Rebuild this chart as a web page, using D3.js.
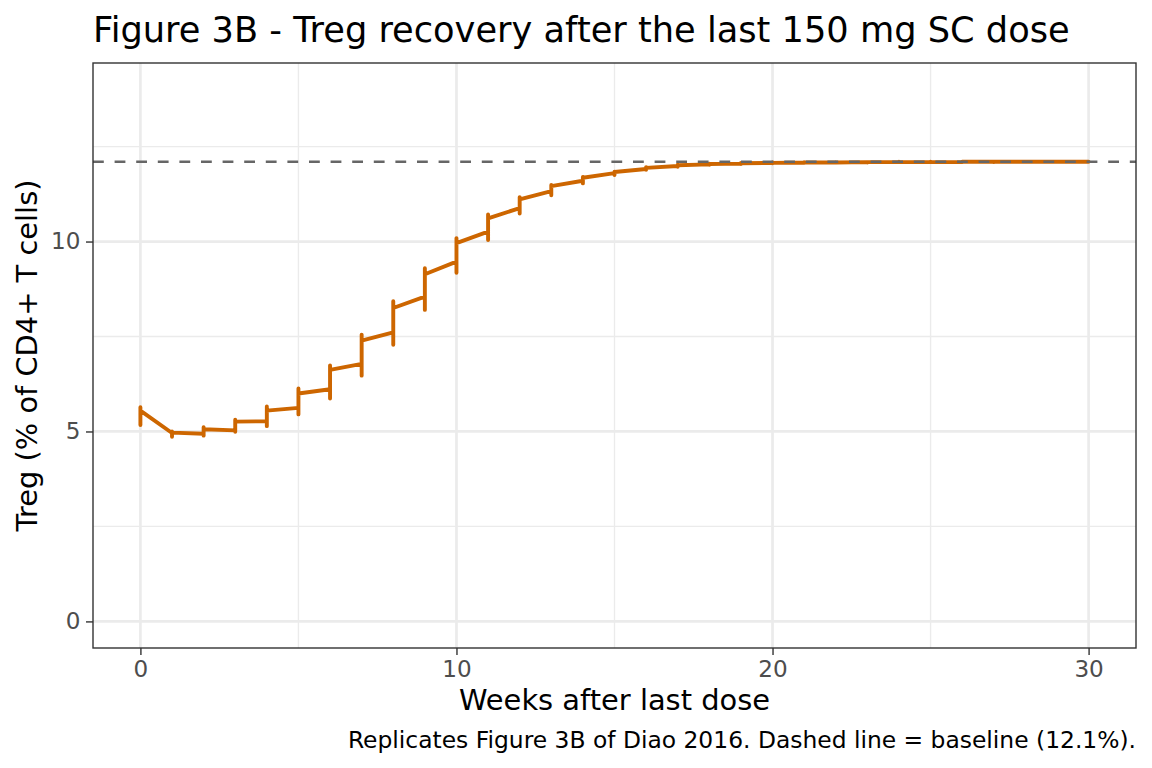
<!DOCTYPE html>
<html>
<head>
<meta charset="utf-8">
<script src="https://cdn.jsdelivr.net/npm/d3@7"></script>
<style>
  html, body { margin: 0; padding: 0; background: #ffffff; }
  svg { display: block; }
  text { font-family: "DejaVu Sans", sans-serif; }
</style>
</head>
<body>
<svg id="chart" width="1152" height="768"></svg>
<script>
// ---- Data ----
const weeks   = [0,1,2,3,4,5,6,7,8,9,10,11,12,13,14,15,16,17,18,19,20,21,22,23,24,25,26,27,28,29,30];
// value where the line arrives at each week (none for week 0)
const arriveVals = [null,4.96,4.94,5.03,5.27,5.62,6.11,6.78,7.61,8.55,9.47,10.26,10.88,11.33,11.60,11.80,11.91,11.99,12.03,12.05,12.07,12.08,12.08,12.09,12.09,12.09,12.09,12.10,12.10,12.10,12.10];
// min / max of the vertical jump at each week
const lowVals  = [5.17,4.86,4.89,4.99,5.14,5.45,5.87,6.47,7.28,8.20,9.18,10.04,10.74,11.22,11.53,11.75,11.89,11.97,12.02,12.04,12.06,12.07,12.08,12.08,12.09,12.09,12.09,12.09,12.10,12.10,12.10];
const highVals = [5.64,5.00,5.11,5.31,5.66,6.13,6.74,7.55,8.43,9.30,10.09,10.71,11.17,11.49,11.70,11.84,11.96,12.02,12.05,12.07,12.08,12.09,12.09,12.09,12.10,12.10,12.10,12.10,12.10,12.10,12.10];
// value where the line leaves each week
const departVals = [5.55,4.97,5.06,5.26,5.55,6.00,6.62,7.39,8.25,9.14,9.96,10.61,11.11,11.46,11.68,11.83,11.94,12.01,12.04,12.06,12.07,12.08,12.08,12.09,12.09,12.09,12.10,12.10,12.10,12.10,12.10];
const baseline = 12.1;
const xTicks = [0, 10, 20, 30];
const yTicks = [0, 5, 10];
const xMinor = [5, 15, 25];
const yMinor = [2.5, 7.5, 12.5];
const titleText = "Figure 3B - Treg recovery after the last 150 mg SC dose";
const xTitle = "Weeks after last dose";
const yTitle = "Treg (% of CD4+ T cells)";
const captionText = "Replicates Figure 3B of Diao 2016. Dashed line = baseline (12.1%).";

// ---- Layout ----
const W = 1152, H = 768;
const panel = { left: 93, right: 1136, top: 63, bottom: 648 };
const tickFont = 23.1, axisTitleFont = 28.9, titleFont = 35.2, capFont = 23.4;

const svg = d3.select("#chart");

// ggplot-like expansion: 5% on each side
const xDom = [0, 30], yDom = [0, 14];
const xPad = (xDom[1] - xDom[0]) * 0.05, yPad = (yDom[1] - yDom[0]) * 0.05;
const x = d3.scaleLinear().domain([xDom[0] - xPad, xDom[1] + xPad]).range([panel.left, panel.right]);
const y = d3.scaleLinear().domain([yDom[0] - yPad, yDom[1] + yPad]).range([panel.bottom, panel.top]);

// panel background
svg.append("rect").attr("x", panel.left).attr("y", panel.top)
  .attr("width", panel.right - panel.left).attr("height", panel.bottom - panel.top)
  .attr("fill", "#ffffff");

const grid = svg.append("g");
// minor grid
grid.selectAll("line.xmin").data(xMinor).join("line")
  .attr("x1", d => x(d)).attr("x2", d => x(d)).attr("y1", panel.top).attr("y2", panel.bottom)
  .attr("stroke", "#ebebeb").attr("stroke-width", 1.35);
grid.selectAll("line.ymin").data(yMinor).join("line")
  .attr("y1", d => y(d)).attr("y2", d => y(d)).attr("x1", panel.left).attr("x2", panel.right)
  .attr("stroke", "#ebebeb").attr("stroke-width", 1.35);
// major grid
grid.selectAll("line.xmaj").data(xTicks).join("line")
  .attr("x1", d => x(d)).attr("x2", d => x(d)).attr("y1", panel.top).attr("y2", panel.bottom)
  .attr("stroke", "#ebebeb").attr("stroke-width", 2.7);
grid.selectAll("line.ymaj").data(yTicks).join("line")
  .attr("y1", d => y(d)).attr("y2", d => y(d)).attr("x1", panel.left).attr("x2", panel.right)
  .attr("stroke", "#ebebeb").attr("stroke-width", 2.7);

// build the path points from the arrays
const pts = [];
weeks.forEach((w, i) => {
  if (arriveVals[i] !== null) pts.push([w, arriveVals[i]]);
  pts.push([w, lowVals[i]]);
  pts.push([w, highVals[i]]);
  pts.push([w, departVals[i]]);
});
const line = d3.line().x(d => x(d[0])).y(d => y(d[1]));
svg.append("path").datum(pts)
  .attr("d", line)
  .attr("fill", "none")
  .attr("stroke", "#cd6600")
  .attr("stroke-width", 3.9)
  .attr("stroke-linejoin", "round")
  .attr("stroke-linecap", "round");

// baseline dashed line (drawn over the curve, as in the reference)
svg.append("line")
  .attr("x1", panel.left).attr("x2", panel.right)
  .attr("y1", y(baseline)).attr("y2", y(baseline))
  .attr("stroke", "#666666").attr("stroke-width", 2.6)
  .attr("stroke-dasharray", "10.8,10.8");

// panel border
svg.append("rect").attr("x", panel.left).attr("y", panel.top)
  .attr("width", panel.right - panel.left).attr("height", panel.bottom - panel.top)
  .attr("fill", "none").attr("stroke", "#333333").attr("stroke-width", 1.4);

// axes (ticks + labels)
const tickLen = 7;
const xAxis = d3.axisBottom(x).tickValues(xTicks).tickSize(tickLen).tickPadding(5.5).tickFormat(d3.format("d"));
const gx = svg.append("g").attr("transform", `translate(0,${panel.bottom})`).call(xAxis);
gx.select(".domain").remove();
gx.selectAll(".tick line").attr("stroke", "#333333").attr("stroke-width", 1.4);
gx.selectAll(".tick text").attr("fill", "#4d4d4d").attr("font-size", tickFont)
  .attr("font-family", "DejaVu Sans");

const yAxis = d3.axisLeft(y).tickValues(yTicks).tickSize(tickLen).tickPadding(5.5).tickFormat(d3.format("d"));
const gy = svg.append("g").attr("transform", `translate(${panel.left},0)`).call(yAxis);
gy.select(".domain").remove();
gy.selectAll(".tick line").attr("stroke", "#333333").attr("stroke-width", 1.4);
gy.selectAll(".tick text").attr("fill", "#4d4d4d").attr("font-size", tickFont)
  .attr("font-family", "DejaVu Sans");

// axis titles
svg.append("text").attr("x", (panel.left + panel.right) / 2).attr("y", 710)
  .attr("text-anchor", "middle").attr("font-size", axisTitleFont).attr("fill", "#000").text(xTitle);
svg.append("text").attr("transform", `translate(37,${(panel.top + panel.bottom) / 2}) rotate(-90)`)
  .attr("text-anchor", "middle").attr("font-size", axisTitleFont).attr("fill", "#000").text(yTitle);

// title
svg.append("text").attr("x", panel.left).attr("y", 42)
  .attr("font-size", titleFont).attr("fill", "#000").text(titleText);

// caption
svg.append("text").attr("x", panel.right).attr("y", 748)
  .attr("text-anchor", "end").attr("font-size", capFont).attr("fill", "#000").text(captionText);
</script>
</body>
</html>
